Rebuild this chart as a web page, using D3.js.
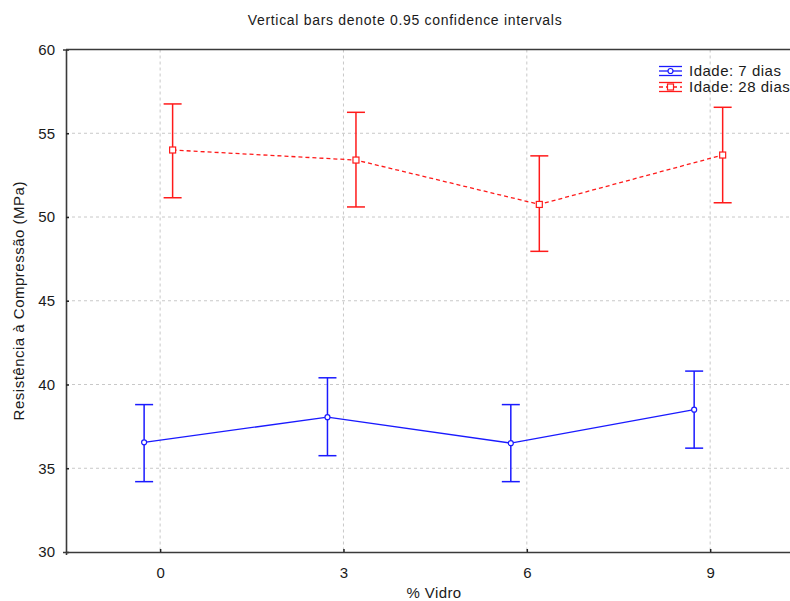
<!DOCTYPE html>
<html>
<head>
<meta charset="utf-8">
<script src="https://cdn.jsdelivr.net/npm/d3@7"></script>
<style>
  body { margin: 0; background: #fff; }
  text { font-family: "Liberation Sans", Arial, sans-serif; fill: #1a1a1a; }
</style>
</head>
<body>
<svg id="chart" width="790" height="601"></svg>
<script>
'use strict'

// data
var vidro = [0, 3, 6, 9];
var mean7  = [36.55, 38.05, 36.5, 38.5];
var low7   = [34.2, 35.75, 34.2, 36.2];
var high7  = [38.8, 40.4, 38.8, 40.8];
var mean28 = [54.0, 53.4, 50.75, 53.7];
var low28  = [51.15, 50.6, 47.95, 50.85];
var high28 = [56.75, 56.25, 53.65, 56.55];
var yTicks = [30, 35, 40, 45, 50, 55, 60];
var seriesNames = ['Idade: 7 dias', 'Idade: 28 dias'];

const svg = d3.select('#chart');
const pLeft = 66, pRight = 800, pTop = 49.5, pBottom = 552;

var x = d3.scaleLinear().domain([-1.54, 10.47]).range([pLeft, pRight]);
var y = d3.scaleLinear().domain([30, 60]).range([pBottom, pTop]);

// grid
svg.append('g').selectAll('line').data(yTicks.slice(1, -1)).enter().append('line')
    .attr('x1', pLeft).attr('x2', pRight)
    .attr('y1', function(d){ return y(d); }).attr('y2', function(d){ return y(d); })
    .attr('stroke', '#c8c8c8').attr('stroke-dasharray', '3,3');
svg.append('g').selectAll('line').data(vidro).enter().append('line')
    .attr('x1', function(d){ return x(d); }).attr('x2', function(d){ return x(d); })
    .attr('y1', pTop).attr('y2', pBottom)
    .attr('stroke', '#c8c8c8').attr('stroke-dasharray', '3,3');

// axes
var yAxis = d3.axisLeft(y).tickValues(yTicks).tickSize(3).tickPadding(8);
var xAxis = d3.axisBottom(x).tickValues(vidro).tickSize(3).tickPadding(12);
var gy = svg.append('g').attr('transform', 'translate(' + pLeft + ',0)').call(yAxis);
var gx = svg.append('g').attr('transform', 'translate(0,' + pBottom + ')').call(xAxis);
[gx, gy].forEach(function(g){
    g.select('.domain').attr('stroke', '#3a3a3a').attr('stroke-width', 1.6);
    g.selectAll('.tick line').attr('stroke', '#222').attr('stroke-width', 1.5);
    g.selectAll('.tick text').style('font-size', '15px').attr('fill', '#1a1a1a');
});
gy.selectAll('.tick line').attr('x2', 3);
gx.selectAll('.tick line').attr('y2', -3);
svg.append('line').attr('x1', pLeft).attr('x2', pRight).attr('y1', pTop).attr('y2', pTop)
    .attr('stroke', '#3a3a3a').attr('stroke-width', 1.6);

// series
var series = [
    { mean: mean7, low: low7, high: high7, color: '#1a1aff', dx: -16, dash: null, mark: 'circle' },
    { mean: mean28, low: low28, high: high28, color: '#ff1a1a', dx: 12.5, dash: '4,3', mark: 'square' }
];

series.forEach(function(s){
    var pts = vidro.map(function(v, i){ return { v: v, m: s.mean[i], lo: s.low[i], hi: s.high[i] }; });
    var g = svg.append('g');
    var line = d3.line().x(function(d){ return x(d.v) + s.dx; }).y(function(d){ return y(d.m); });
    g.append('path').datum(pts).attr('d', line).attr('fill', 'none')
        .attr('stroke', s.color).attr('stroke-width', 1.3).attr('stroke-dasharray', s.dash);
    var eb = g.selectAll('.eb').data(pts).enter().append('g');
    eb.append('line')
        .attr('x1', function(d){ return x(d.v) + s.dx; }).attr('x2', function(d){ return x(d.v) + s.dx; })
        .attr('y1', function(d){ return y(d.lo); }).attr('y2', function(d){ return y(d.hi); })
        .attr('stroke', s.color).attr('stroke-width', 1.5);
    ['lo', 'hi'].forEach(function(k){
        eb.append('line')
            .attr('x1', function(d){ return x(d.v) + s.dx - 9; }).attr('x2', function(d){ return x(d.v) + s.dx + 9; })
            .attr('y1', function(d){ return y(d[k]); }).attr('y2', function(d){ return y(d[k]); })
            .attr('stroke', s.color).attr('stroke-width', 1.5);
    });
    if (s.mark == 'circle') {
        eb.append('circle')
            .attr('cx', function(d){ return x(d.v) + s.dx; }).attr('cy', function(d){ return y(d.m); })
            .attr('r', 2.5).attr('fill', '#fff').attr('stroke', s.color).attr('stroke-width', 1.2);
    } else {
        eb.append('rect')
            .attr('x', function(d){ return x(d.v) + s.dx - 3; }).attr('y', function(d){ return y(d.m) - 3; })
            .attr('width', 6).attr('height', 6).attr('fill', '#fff').attr('stroke', s.color).attr('stroke-width', 1.2);
    }
});

// legend
var leg = svg.append('g').attr('transform', 'translate(659,0)');
series.forEach(function(s, i){
    var cy = 71 + i * 16;
    var lg = leg.append('g');
    lg.append('line').attr('x1', 0).attr('x2', 23).attr('y1', cy - 4.5).attr('y2', cy - 4.5)
        .attr('stroke', s.color).attr('stroke-width', 1.3);
    lg.append('line').attr('x1', 0).attr('x2', 23).attr('y1', cy).attr('y2', cy)
        .attr('stroke', s.color).attr('stroke-width', 1.3).attr('stroke-dasharray', s.dash);
    lg.append('line').attr('x1', 0).attr('x2', 23).attr('y1', cy + 4.5).attr('y2', cy + 4.5)
        .attr('stroke', s.color).attr('stroke-width', 1.3);
    if (s.mark == 'circle')
        lg.append('circle').attr('cx', 11.5).attr('cy', cy).attr('r', 2.5)
            .attr('fill', '#fff').attr('stroke', s.color).attr('stroke-width', 1.2);
    else
        lg.append('rect').attr('x', 8.5).attr('y', cy - 3).attr('width', 6).attr('height', 6)
            .attr('fill', '#fff').attr('stroke', s.color).attr('stroke-width', 1.2);
    lg.append('text').attr('x', 30).attr('y', cy + 5).style('font-size', '15px')
        .style('letter-spacing', '0.5px').text(seriesNames[i]);
});

// titles
svg.append('text').attr('x', 405).attr('y', 25).attr('text-anchor', 'middle')
    .style('font-size', '14px').style('letter-spacing', '0.7px')
    .text('Vertical bars denote 0.95 confidence intervals');
svg.append('text').attr('x', 434).attr('y', 598).attr('text-anchor', 'middle')
    .style('font-size', '15px').style('letter-spacing', '0.4px').text('% Vidro');
svg.append('text').attr('transform', 'translate(24,' + ((pTop + pBottom) / 2) + ') rotate(-90)')
    .attr('text-anchor', 'middle').style('font-size', '15px').style('letter-spacing', '0.5px')
    .text('Resistência à Compressão (MPa)');
</script>
</body>
</html>
